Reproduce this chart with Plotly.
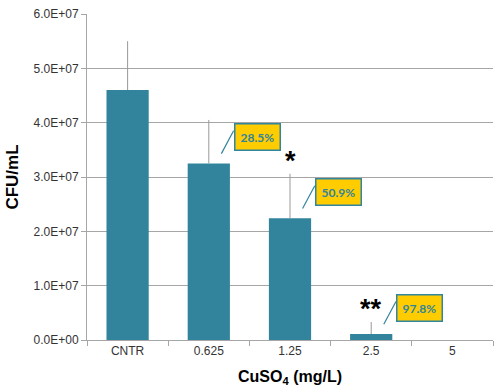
import plotly.graph_objects as go

categories = ["CNTR", "0.625", "1.25", "2.5", "5"]
cfu_values = [4.6e7, 3.25e7, 2.24e7, 1.1e6, 0]
cfu_errors = [0.9e7, 0.8e7, 0.82e7, 2.2e6, 0]
y_ticks = [0, 1e7, 2e7, 3e7, 4e7, 5e7, 6e7]
reduction_labels = ["", "28.5%", "50.9%", "97.8%", ""]
significance = ["", "", "*", "**", ""]

BAR = "#31849B"
TEAL = "#31859C"
GOLD = "#FFCC00"

fig = go.Figure()
fig.add_trace(go.Bar(
    x=categories, y=cfu_values,
    marker=dict(color=BAR, line=dict(width=0)),
    width=0.52,
    error_y=dict(type="data", array=cfu_errors, arrayminus=[0]*5, symmetric=False,
                 color="#999999", thickness=1, width=0),
    hoverinfo="skip",
))

tick_text = [f"{v:.1E}" for v in y_ticks]

annotations = []
shapes = []
for i, (lab, v) in enumerate(zip(reduction_labels, cfu_values)):
    if not lab:
        continue
    box_y = v + 4.8e6
    annotations.append(dict(
        x=i + 0.6, y=box_y, xref="x", yref="y", text=f"<b>{lab}</b>",
        showarrow=False, bgcolor=GOLD, bordercolor=TEAL, borderwidth=1.5,
        borderpad=5, font=dict(family="Lato, Open Sans, Arial", size=12, color=TEAL),
        xanchor="center", yanchor="middle",
    ))
    shapes.append(dict(
        type="line", xref="x", yref="y",
        x0=i + 0.155, x1=i + 0.305, y0=box_y - 3.0e6, y1=box_y + 1.2e6,
        line=dict(color=TEAL, width=1.2),
    ))

for i, (s, v, e) in enumerate(zip(significance, cfu_values, cfu_errors)):
    if not s:
        continue
    annotations.append(dict(
        x=i, y=v + e, xref="x", yref="y", text=f"<b>{s}</b>",
        showarrow=False, yanchor="bottom", yshift=-4,
        font=dict(family="Arial", size=27, color="black"),
    ))

annotations.append(dict(
    x=0.5, y=-0.115, xref="paper", yref="paper",
    text="<b>CuSO<sub>4</sub> (mg/L)</b>", showarrow=False,
    font=dict(family="Arial", size=16, color="black"), yanchor="middle",
))

fig.update_layout(
    width=500, height=392,
    margin=dict(l=87, r=7, t=10, b=52),
    paper_bgcolor="white", plot_bgcolor="white",
    showlegend=False,
    font=dict(family="Arial", size=12, color="#333333"),
    annotations=annotations, shapes=shapes,
    xaxis=dict(
        type="category", range=[-0.5, 4.5], tickson="boundaries",
        showgrid=False, showline=True, linecolor="#A6A6A6", linewidth=1,
        ticks="outside", ticklen=5, tickcolor="#A6A6A6",
        tickfont=dict(family="Arial", size=12, color="#333333"),
    ),
    yaxis=dict(
        range=[0, 6e7], tickvals=y_ticks, ticktext=tick_text,
        showgrid=True, gridcolor="#A6A6A6", gridwidth=1,
        showline=True, linecolor="#A6A6A6", linewidth=1,
        ticks="outside", ticklen=5, tickcolor="#A6A6A6",
        tickfont=dict(family="Arial", size=12, color="#333333"),
        zeroline=False,
        title=dict(text="<b>CFU/mL</b>", font=dict(family="Arial", size=17, color="black"), standoff=10),
    ),
)

fig.write_html("out.html", config={"displayModeBar": False},
               post_script="document.body.style.margin='0px';")
